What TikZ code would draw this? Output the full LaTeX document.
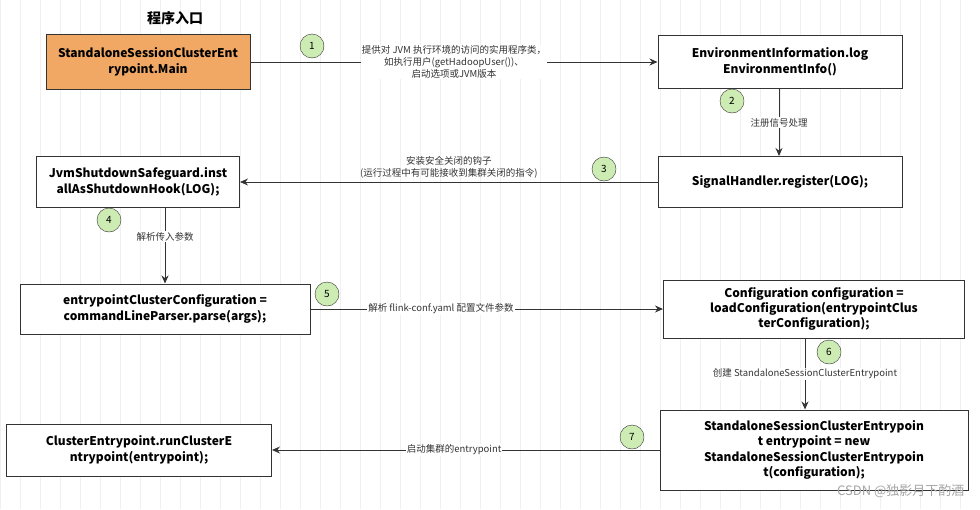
\documentclass[tikz,border=0pt]{standalone}
\usepackage{fontspec}
\setmainfont{Noto Sans CJK SC}
\usetikzlibrary{arrows.meta}
\begin{document}
\begin{tikzpicture}[x=1pt,y=-1pt,
  box/.style={draw=black!80,line width=1pt,fill=white,align=center,font=\bfseries\fontsize{12}{16}\selectfont,inner sep=2pt},
  num/.style={circle,draw=black!80,fill={rgb,255:red,204;green,236;blue,180},minimum size=24pt,inner sep=0pt,font=\fontsize{10}{10}\selectfont},
  lab/.style={fill=white,align=center,font=\fontsize{9.5}{12}\selectfont,inner sep=1pt,text=black!80},
  arr/.style={draw=black!80,line width=1pt,-{Stealth[length=8pt,width=7pt]}}]
\useasboundingbox (0,0) rectangle (980,509);
\fill[white] (0,0) rectangle (980,509);
\draw[black!6,line width=0.5pt,step=20] (0,0) grid (980,509);
\node[font=\bfseries\fontsize{14}{16}\selectfont] (t) at (175,18) {程序入口};
\node[box,fill={rgb,255:red,240;green,168;blue,100},minimum width=204pt,minimum height=55pt] (A) at (148,62) {StandaloneSessionClusterEnt\\rypoint.Main};
\node[box,minimum width=244pt,minimum height=53pt] (B) at (780,62) {EnvironmentInformation.log\\EnvironmentInfo()};
\node[box,minimum width=244pt,minimum height=51pt] (C) at (780,182) {SignalHandler.register(LOG);};
\node[box,minimum width=203pt,minimum height=51pt] (D) at (138,182) {JvmShutdownSafeguard.inst\\allAsShutdownHook(LOG);};
\node[box,minimum width=290pt,minimum height=50pt] (E) at (165,309) {entrypointClusterConfiguration =\\commandLineParser.parse(args);};
\node[box,minimum width=301pt,minimum height=58pt,font=\bfseries\fontsize{12}{15}\selectfont] (F) at (814,309) {Configuration configuration =\\loadConfiguration(entrypointClus\\terConfiguration);};
\node[box,minimum width=308pt,minimum height=80pt,font=\bfseries\fontsize{12}{15.5}\selectfont] (G) at (814,450) {StandaloneSessionClusterEntrypoin\\t entrypoint = new\\StandaloneSessionClusterEntrypoin\\t(configuration);};
\node[box,minimum width=265pt,minimum height=52pt] (H) at (139,450) {ClusterEntrypoint.runClusterE\\ntrypoint(entrypoint);};
\draw[arr] (A.east) -- node[lab]{提供对 JVM 执行环境的访问的实用程序类，\\如执行用户(getHadoopUser())、\\启动选项或JVM版本} (B.west);
\draw[arr] (B.south -| 779,0) -- node[lab]{注册信号处理} (C.north -| 779,0);
\draw[arr] (C.west) -- node[lab,above=2pt,fill=none]{安装安全关闭的钩子\\(运行过程中有可能接收到集群关闭的指令)} (D.east);
\draw[arr] (D.south -| 165,0) -- node[lab,pos=0.38]{解析传入参数} (E.north -| 165,0);
\draw[arr] (E.east) -- node[lab,pos=0.37]{解析 flink-conf.yaml 配置文件参数} (F.west);
\draw[arr] (F.south -| 805,0) -- node[lab]{创建 StandaloneSessionClusterEntrypoint} (G.north -| 805,0);
\draw[arr] (G.west) -- node[lab,pos=0.53]{启动集群的entrypoint} (H.east);
\node[num] (n1) at (312,46) {1};
\node[num] (n2) at (732,101) {2};
\node[num] (n3) at (604,169) {3};
\node[num] (n4) at (109,220) {4};
\node[num] (n5) at (327,294) {5};
\node[num] (n6) at (829,352) {6};
\node[num] (n7) at (632,437) {7};
\node[text=black!35,font=\fontsize{13}{14}\selectfont,anchor=east] (w) at (968,491) {CSDN @独影月下酌酒};
\end{tikzpicture}
\end{document}
